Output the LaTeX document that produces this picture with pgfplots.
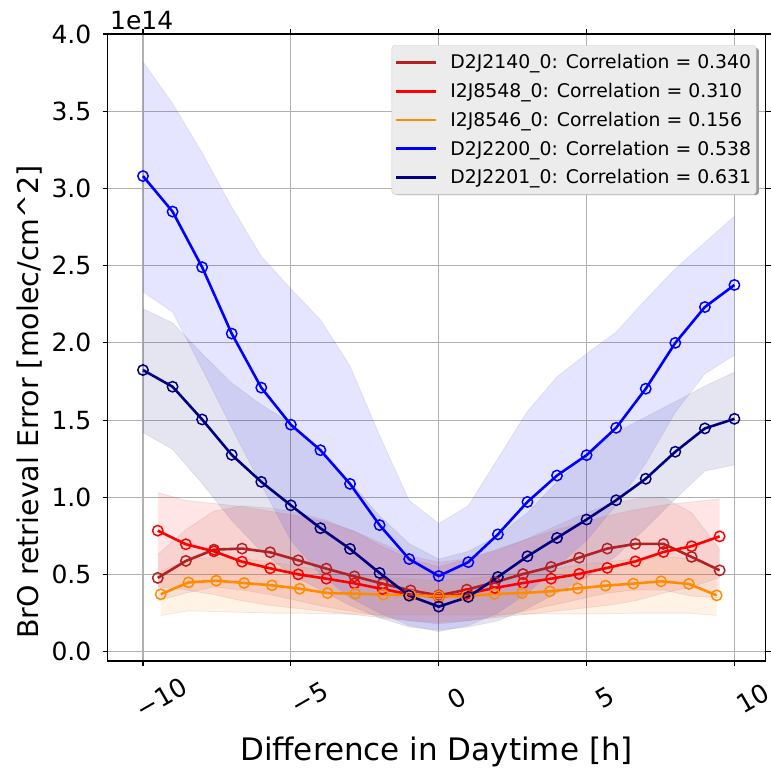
\documentclass[border=0pt]{standalone}
\usepackage{fontspec}
\setmainfont{DejaVu Sans}
\usepackage{pgfplots}
\pgfplotsset{compat=1.18}
\usepackage{pgfplotstable}
\usepgfplotslibrary{fillbetween}

\definecolor{cbrown}{RGB}{178,34,34}
\definecolor{cred}{RGB}{255,0,0}
\definecolor{corange}{RGB}{255,140,0}
\definecolor{cblue}{RGB}{0,0,255}
\definecolor{cnavy}{RGB}{0,0,128}
\definecolor{cgrid}{RGB}{176,176,176}
\definecolor{clegbg}{RGB}{236,236,236}

% D2J2140_0
\pgfplotstableread{
x mean lo hi
-9.5 0.478 0.33 0.63
-8.55 0.588 0.38 0.79
-7.6 0.661 0.42 0.91
-6.65 0.668 0.40 0.945
-5.7 0.644 0.37 0.93
-4.75 0.592 0.33 0.90
-3.8 0.538 0.29 0.85
-2.85 0.488 0.26 0.78
-1.9 0.441 0.23 0.68
-0.95 0.397 0.20 0.60
0 0.365 0.18 0.55
0.95 0.402 0.20 0.60
1.9 0.450 0.23 0.65
2.85 0.503 0.26 0.72
3.8 0.549 0.30 0.80
4.75 0.609 0.34 0.88
5.7 0.668 0.38 0.95
6.65 0.698 0.40 0.99
7.6 0.698 0.40 1.00
8.55 0.614 0.36 0.90
9.5 0.527 0.35 0.66
}\tabA
% I2J8548_0
\pgfplotstableread{
x mean lo hi
-9.5 0.784 0.42 1.03
-8.55 0.696 0.40 0.98
-7.6 0.650 0.37 0.96
-6.65 0.583 0.33 0.94
-5.7 0.540 0.30 0.91
-4.75 0.501 0.28 0.88
-3.8 0.473 0.26 0.84
-2.85 0.443 0.24 0.78
-1.9 0.406 0.22 0.70
-0.95 0.370 0.20 0.62
0 0.355 0.19 0.58
0.95 0.375 0.20 0.60
1.9 0.413 0.22 0.66
2.85 0.445 0.24 0.72
3.8 0.473 0.26 0.78
4.75 0.504 0.28 0.83
5.7 0.543 0.30 0.88
6.65 0.585 0.33 0.92
7.6 0.646 0.38 0.95
8.55 0.683 0.42 0.97
9.5 0.747 0.48 0.99
}\tabB
% I2J8546_0
\pgfplotstableread{
x mean lo hi
-9.4 0.372 0.235 0.52
-8.46 0.449 0.265 0.60
-7.52 0.460 0.26 0.61
-6.58 0.445 0.255 0.60
-5.64 0.430 0.25 0.58
-4.7 0.408 0.25 0.55
-3.76 0.380 0.245 0.52
-2.82 0.376 0.245 0.50
-1.88 0.370 0.24 0.48
-0.94 0.365 0.24 0.47
0 0.360 0.24 0.46
0.94 0.359 0.24 0.47
1.88 0.374 0.24 0.49
2.82 0.380 0.245 0.51
3.76 0.391 0.245 0.53
4.7 0.410 0.245 0.56
5.64 0.428 0.245 0.58
6.58 0.441 0.25 0.60
7.52 0.456 0.25 0.62
8.46 0.439 0.25 0.60
9.4 0.365 0.235 0.54
}\tabC
% D2J2200_0
\pgfplotstableread{
x mean lo hi
-10 3.08 2.33 3.82
-9 2.85 2.20 3.55
-8 2.49 1.83 3.23
-7 2.06 1.45 2.88
-6 1.71 1.08 2.56
-5 1.47 0.72 2.35
-4 1.305 0.50 2.15
-3 1.087 0.35 1.85
-2 0.82 0.25 1.40
-1 0.60 0.17 0.98
0 0.49 0.13 0.83
1 0.58 0.17 0.945
2 0.76 0.25 1.25
3 0.97 0.38 1.557
4 1.141 0.55 1.78
5 1.273 0.72 1.93
6 1.45 0.95 2.07
7 1.703 1.22 2.28
8 2.00 1.55 2.48
9 2.232 1.80 2.65
10 2.375 1.92 2.82
}\tabD
% D2J2201_0
\pgfplotstableread{
x mean lo hi
-10 1.824 1.42 2.22
-9 1.716 1.31 2.13
-8 1.504 1.09 1.93
-7 1.275 0.85 1.74
-6 1.10 0.65 1.60
-5 0.948 0.50 1.48
-4 0.80 0.40 1.30
-3 0.666 0.30 1.10
-2 0.51 0.22 0.88
-1 0.363 0.16 0.70
0 0.292 0.14 0.60
1 0.355 0.16 0.65
2 0.484 0.20 0.75
3 0.618 0.28 0.90
4 0.737 0.38 1.10
5 0.856 0.48 1.28
6 0.981 0.62 1.42
7 1.12 0.80 1.52
8 1.295 0.99 1.62
9 1.446 1.17 1.72
10 1.508 1.21 1.81
}\tabE

\begin{document}
\begin{tikzpicture}
\begin{axis}[
  at={(107.5pt,113pt)}, anchor=south west,
  scale only axis, width=658pt, height=627pt,
  xmin=-11.2, xmax=11.05, ymin=-0.06, ymax=4.0,
  axis line style={line width=1.1pt},
  tick style={line width=1.1pt, black},
  major tick length=5pt,
  tick align=outside,
  xtick={-10,-5,0,5,10},
  xticklabels={−10,−5,0,5,10},
  ytick={0,0.5,1,1.5,2,2.5,3,3.5,4},
  yticklabels={0.0,0.5,1.0,1.5,2.0,2.5,3.0,3.5,4.0},
  xticklabel style={font=\fontsize{25.5}{30}\selectfont, rotate=30, anchor=center, inner sep=0pt, yshift=-37pt},
  yticklabel style={font=\fontsize{25}{30}\selectfont, anchor=east, inner sep=0pt, xshift=-11pt},
  grid=major,
  major grid style={line width=1.1pt, cgrid},
  xlabel={Difference in Daytime [h]},
  ylabel={BrO retrieval Error [molec/cm\textasciicircum 2]},
  every axis x label/.style={at={(axis description cs:0.5,0)}, anchor=center, inner sep=0pt, yshift=-91pt, font=\fontsize{31}{37}\selectfont},
  every axis y label/.style={at={(axis description cs:0,0.5)}, anchor=center, inner sep=0pt, xshift=-78pt, yshift=-54.5pt, rotate=90, font=\fontsize{28.5}{34}\selectfont},
  legend style={at={(0.986,0.982)}, anchor=north east, fill=clegbg, draw=black!20, rounded corners=3pt,
    font=\fontsize{18.8}{22}\selectfont, row sep=8.9pt, column sep=11pt, inner xsep=3pt, inner ysep=7.2pt},
  legend cell align=left,
  legend image code/.code={\draw[#1, mark=none, line width=2.5pt] (0pt,0pt) -- (40pt,0pt);},
  every axis plot/.append style={line width=2.6pt},
]
% bands
\addplot[name path=Ahi, draw=gray, draw opacity=0.15, line width=0.8pt, forget plot] table[x=x,y=hi]{\tabA};
\addplot[name path=Alo, draw=gray, draw opacity=0.15, line width=0.8pt, forget plot] table[x=x,y=lo]{\tabA};
\addplot[fill=cbrown, fill opacity=0.1, draw=none, forget plot] fill between[of=Ahi and Alo];
\addplot[name path=Bhi, draw=gray, draw opacity=0.15, line width=0.8pt, forget plot] table[x=x,y=hi]{\tabB};
\addplot[name path=Blo, draw=gray, draw opacity=0.15, line width=0.8pt, forget plot] table[x=x,y=lo]{\tabB};
\addplot[fill=cred, fill opacity=0.1, draw=none, forget plot] fill between[of=Bhi and Blo];
\addplot[name path=Chi, draw=gray, draw opacity=0.15, line width=0.8pt, forget plot] table[x=x,y=hi]{\tabC};
\addplot[name path=Clo, draw=gray, draw opacity=0.15, line width=0.8pt, forget plot] table[x=x,y=lo]{\tabC};
\addplot[fill=corange, fill opacity=0.1, draw=none, forget plot] fill between[of=Chi and Clo];
\addplot[name path=Dhi, draw=gray, draw opacity=0.15, line width=0.8pt, forget plot] table[x=x,y=hi]{\tabD};
\addplot[name path=Dlo, draw=gray, draw opacity=0.15, line width=0.8pt, forget plot] table[x=x,y=lo]{\tabD};
\addplot[fill=cblue, fill opacity=0.1, draw=none, forget plot] fill between[of=Dhi and Dlo];
\addplot[name path=Ehi, draw=gray, draw opacity=0.15, line width=0.8pt, forget plot] table[x=x,y=hi]{\tabE};
\addplot[name path=Elo, draw=gray, draw opacity=0.15, line width=0.8pt, forget plot] table[x=x,y=lo]{\tabE};
\addplot[fill=cnavy, fill opacity=0.1, draw=none, forget plot] fill between[of=Ehi and Elo];
% lines
\addplot[cbrown, mark=o, mark size=5.2pt, mark options={line width=1.5pt}] table[x=x,y=mean]{\tabA};
\addlegendentry{D2J2140\_0: Correlation = 0.340}
\addplot[cred, mark=o, mark size=5.2pt, mark options={line width=1.5pt}] table[x=x,y=mean]{\tabB};
\addlegendentry{I2J8548\_0: Correlation = 0.310}
\addplot[corange, mark=o, mark size=5.2pt, mark options={line width=1.5pt}] table[x=x,y=mean]{\tabC};
\addlegendentry{I2J8546\_0: Correlation = 0.156}
\addplot[cblue, mark=o, mark size=5.2pt, mark options={line width=1.5pt}] table[x=x,y=mean]{\tabD};
\addlegendentry{D2J2200\_0: Correlation = 0.538}
\addplot[cnavy, mark=o, mark size=5.2pt, mark options={line width=1.5pt}] table[x=x,y=mean]{\tabE};
\addlegendentry{D2J2201\_0: Correlation = 0.631}
% legend shadow (drawn before the legend box)
\fill[black!40, rounded corners=3pt] (rel axis cs:0.4369,0.7432) rectangle (rel axis cs:0.9901,0.9777);
\end{axis}
\node[anchor=base west, inner sep=0pt, font=\fontsize{25}{30}\selectfont] at (110pt,744pt) {1e14};
\path[use as bounding box] (0pt,0pt) rectangle (767pt,774pt);
\end{tikzpicture}
\end{document}
